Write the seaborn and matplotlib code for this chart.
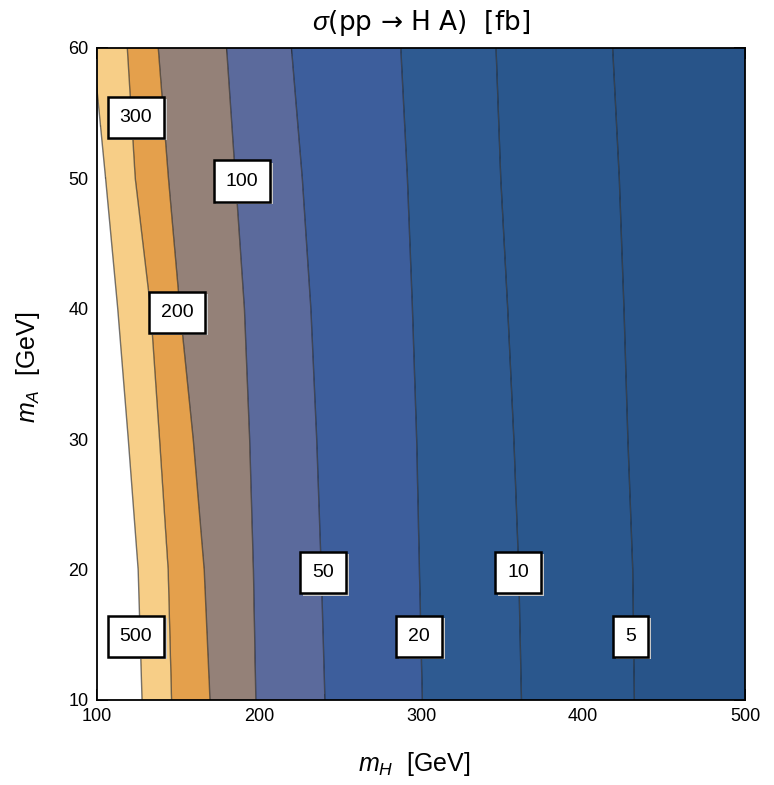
import numpy as np
import matplotlib
matplotlib.use("Agg")
import matplotlib.pyplot as plt
import matplotlib.patheffects as pe
import seaborn as sns

# ---------------- data ----------------
mA_rows = [10, 20, 30, 40, 50, 60]                 # m_A values (GeV) at which contours were read
levels = [500, 300, 200, 100, 50, 20, 10, 5]       # contour levels (fb)
mH_500 = [127.8, 125.4, 119.3, 112.8, 105.3, 97.5]
mH_300 = [146.0, 143.9, 138.6, 133.1, 123.6, 118.7]
mH_200 = [169.8, 166.2, 159.4, 151.2, 144.1, 137.8]
mH_100 = [198.0, 196.5, 194.2, 191.0, 185.5, 180.0]
mH_50 = [240.7, 238.4, 235.6, 232.0, 226.7, 220.0]
mH_20 = [300.8, 299.0, 297.3, 294.7, 291.6, 287.5]
mH_10 = [362.0, 360.3, 357.3, 353.5, 349.2, 346.3]
mH_5 = [431.7, 430.7, 427.7, 425.3, 422.4, 418.3]

label_text = ["300", "100", "200", "50", "10", "500", "20", "5"]
label_mH = [124.0, 189.5, 149.4, 239.5, 359.9, 124.0, 298.8, 429.6]
label_mA = [54.7, 49.8, 39.75, 19.8, 19.8, 14.9, 14.9, 14.9]

# band colours from lowest (<5) to highest (>500)
band_colors = ["#285489", "#2A578D", "#2E5A91", "#3D5E9C", "#5B6A9C",
               "#948178", "#E4A04C", "#F7CE87", "#FFFFFF"]

# ---------------- style ----------------
sns.set_style("ticks")
plt.rcParams["font.family"] = ["Liberation Sans", "DejaVu Sans"]
plt.rcParams["mathtext.fontset"] = "custom"
plt.rcParams["mathtext.it"] = "Liberation Sans:italic"
plt.rcParams["mathtext.rm"] = "Liberation Sans"
plt.rcParams["mathtext.sf"] = "Liberation Sans"
for k in ["text.color", "axes.labelcolor", "xtick.color", "ytick.color", "axes.edgecolor"]:
    plt.rcParams[k] = "black"

# ---------------- field from contour positions ----------------
contour_pos = np.array([mH_500, mH_300, mH_200, mH_100, mH_50, mH_20, mH_10, mH_5])
logL = np.log(np.array(levels, dtype=float))
gx = np.linspace(85, 515, 700)
gy = np.linspace(10, 60, 400)
Z = np.empty((gy.size, gx.size))
for i, a in enumerate(gy):
    xs = np.array([np.interp(a, mA_rows, c) for c in contour_pos])
    s0 = (logL[1] - logL[0]) / (xs[1] - xs[0])
    s1 = (logL[-1] - logL[-2]) / (xs[-1] - xs[-2])
    xe = np.concatenate([[70.0], xs, [530.0]])
    ye = np.concatenate([[logL[0] + s0 * (70.0 - xs[0])], logL,
                         [logL[-1] + s1 * (530.0 - xs[-1])]])
    Z[i] = np.interp(gx, xe, ye)

asc = np.log(np.array(sorted(levels), dtype=float))
bounds = np.concatenate([[-50.0], asc, [50.0]])

fig = plt.figure(figsize=(7.74, 7.85), dpi=100)
ax = fig.add_axes([97 / 774, 85 / 785, 648 / 774, 652 / 785])

ax.contourf(gx, gy, Z, levels=bounds, colors=band_colors, antialiased=True)
ax.contour(gx, gy, Z, levels=asc, colors="#1a1a1a", linewidths=1.0, alpha=0.6)

ax.set_xlim(100, 500)
ax.set_ylim(10, 60)

for t, x, y in zip(label_text, label_mH, label_mA):
    txt = ax.text(x, y, t, ha="center", va="center", fontsize=14,
                  bbox=dict(boxstyle="square,pad=0.62", fc="white", ec="black", lw=1.8),
                  zorder=5)
    txt.get_bbox_patch().set_path_effects([
        pe.SimplePatchShadow(offset=(2, -2), shadow_rgbFace="#c8c8c8", alpha=1.0),
        pe.Normal()])

ax.set_xticks([100, 200, 300, 400, 500])
ax.set_xticks(np.arange(100, 501, 20), minor=True)
ax.set_yticks([10, 20, 30, 40, 50, 60])
ax.set_yticks(np.arange(10, 61, 2), minor=True)
ax.tick_params(which="both", direction="in", top=True, right=True, color="black")
ax.tick_params(which="major", length=8, width=1.3, labelsize=13, pad=6)
ax.tick_params(which="minor", length=4.5, width=1.1)
for sp in ax.spines.values():
    sp.set_linewidth(1.3)
    sp.set_color("black")
    sp.set_zorder(6)

ax.set_xlabel(r"$m_H$  [GeV]", fontsize=18)
ax.set_ylabel(r"$m_A$  [GeV]", fontsize=18)
ax.xaxis.set_label_coords(0.49, -0.076)
ax.yaxis.set_label_coords(-0.085, 0.51)
ax.set_title(r"$\sigma$(pp → H A)  [fb]", fontsize=19, pad=13,
             family=["DejaVu Sans"])

fig.savefig("out.png", dpi=100)
